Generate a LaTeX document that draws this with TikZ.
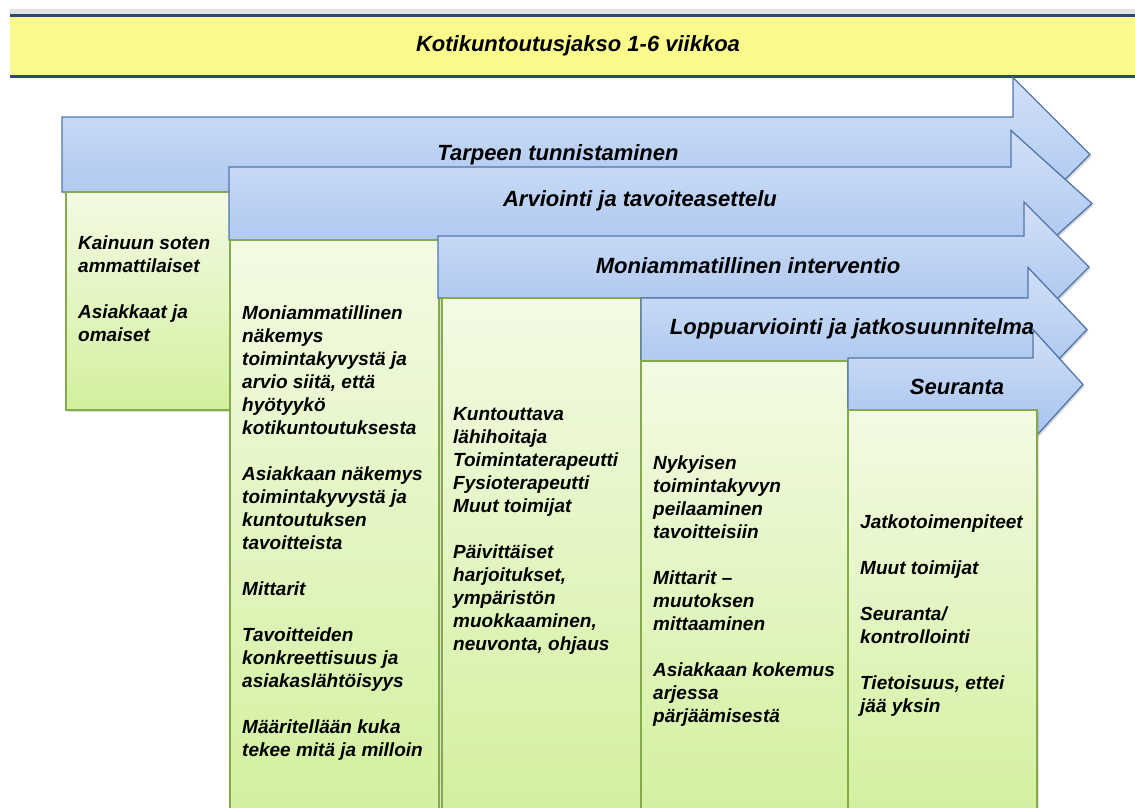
\documentclass[tikz,border=0pt]{standalone}
\usepackage{fontspec}
\setmainfont{Liberation Sans}
\usetikzlibrary{shadows}

\definecolor{arrowtop}{RGB}{210,224,247}
\definecolor{arrowbot}{RGB}{165,194,238}
\definecolor{arrowline}{RGB}{80,118,172}
\definecolor{boxtop}{RGB}{243,250,228}
\definecolor{boxbot}{RGB}{210,240,158}
\definecolor{boxline}{RGB}{132,170,74}
\definecolor{bandfill}{RGB}{250,249,140}
\definecolor{bandline}{RGB}{44,74,110}

\tikzset{
  phase/.style={draw=arrowline, line width=1.3pt, top color=arrowtop, bottom color=arrowbot,
    drop shadow={opacity=0.3, shadow xshift=1.5pt, shadow yshift=-2pt}},
  stage/.style={draw=boxline, line width=1.2pt, top color=boxtop, bottom color=boxbot,
    drop shadow={opacity=0.25, shadow xshift=1.5pt, shadow yshift=-1.5pt}},
  phaselabel/.style={inner sep=0pt, font=\fontsize{22}{26}\selectfont\bfseries\itshape},
  stagetext/.style={anchor=north west, align=left, inner sep=0pt,
    font=\fontsize{19}{23}\selectfont\bfseries\itshape},
}

% #1 left, #2 top, #3 bottom, #4 neck, #5 half head, #6 tip
\newcommand\phasearrow[6]{%
  \path[phase] (#1,#2) -- (#4,#2) -- (#4,{(#2+#3)/2-#5}) -- (#6,{(#2+#3)/2})
    -- (#4,{(#2+#3)/2+#5}) -- (#4,#3) -- (#1,#3) -- cycle;
}
\newcommand\stagebox[3]{% left, top, right
  \path[stage] (#1,820) -- (#1,#2) -- (#3,#2) -- (#3,820);
}

\begin{document}
\begin{tikzpicture}[x=1pt,y=-1pt]
  \useasboundingbox (0,0) rectangle (1135,807);
  \fill[white] (0,0) rectangle (1135,807);
  \clip (0,0) rectangle (1135,807);

  % period band
  \fill[black!12] (10,9) rectangle (1140,14);
  \fill[bandfill] (10,15) rectangle (1140,77);
  \draw[bandline, line width=3pt] (10,15.5) -- (1140,15.5);
  \draw[bandline, line width=3pt] (10,76.5) -- (1140,76.5);
  \node[phaselabel] (jakso) at (578,46) {Kotikuntoutusjakso 1-6 viikkoa};

  % phases and their boxes
  \phasearrow{62}{117}{192}{1013}{77}{1090}
  \path[stage] (66,410) -- (66,192) -- (231,192) -- (231,410) -- cycle;
  \phasearrow{229}{167}{240}{1011}{73}{1092}
  \stagebox{230}{240}{439}
  \phasearrow{438}{236}{298}{1024}{65}{1089}
  \stagebox{442}{298}{641}
  \phasearrow{641}{298}{361}{1028}{62}{1087}
  \stagebox{641}{361}{848}
  \phasearrow{848}{358}{411}{1033}{55}{1083}
  \stagebox{848}{410}{1037}

  \node[phaselabel] (tunn) at (558,155) {Tarpeen tunnistaminen};
  \node[phaselabel] (arvi) at (640,201) {Arviointi ja tavoiteasettelu};
  \node[phaselabel] (inte) at (748,266) {Moniammatillinen interventio};
  \node[phaselabel] (lopp) at (852,329) {Loppuarviointi ja jatkosuunnitelma};
  \node[phaselabel] (seur) at (957,387) {Seuranta};

  \node[stagetext] (tunnTxt) at (78,233) {\strut Kainuun soten\\ammattilaiset\\[23pt]Asiakkaat ja\\omaiset};
  \node[stagetext] (arviTxt) at (242,303) {\strut Moniammatillinen\\näkemys\\toimintakyvystä ja\\arvio siitä, että\\hyötyykö\\kotikuntoutuksesta\\[23pt]Asiakkaan näkemys\\toimintakyvystä ja\\kuntoutuksen\\tavoitteista\\[23pt]Mittarit\\[23pt]Tavoitteiden\\konkreettisuus ja\\asiakaslähtöisyys\\[23pt]Määritellään kuka\\tekee mitä ja milloin};
  \node[stagetext] (inteTxt) at (453,404) {\strut Kuntouttava\\lähihoitaja\\Toimintaterapeutti\\Fysioterapeutti\\Muut toimijat\\[23pt]Päivittäiset\\harjoitukset,\\ympäristön\\muokkaaminen,\\neuvonta, ohjaus};
  \node[stagetext] (loppTxt) at (653,453) {\strut Nykyisen\\toimintakyvyn\\peilaaminen\\tavoitteisiin\\[23pt]Mittarit –\\muutoksen\\mittaaminen\\[23pt]Asiakkaan kokemus\\arjessa\\pärjäämisestä};
  \node[stagetext] (seurTxt) at (860,512) {\strut Jatkotoimenpiteet\\[23pt]Muut toimijat\\[23pt]Seuranta/\\kontrollointi\\[23pt]Tietoisuus, ettei\\jää yksin};
\end{tikzpicture}
\end{document}
